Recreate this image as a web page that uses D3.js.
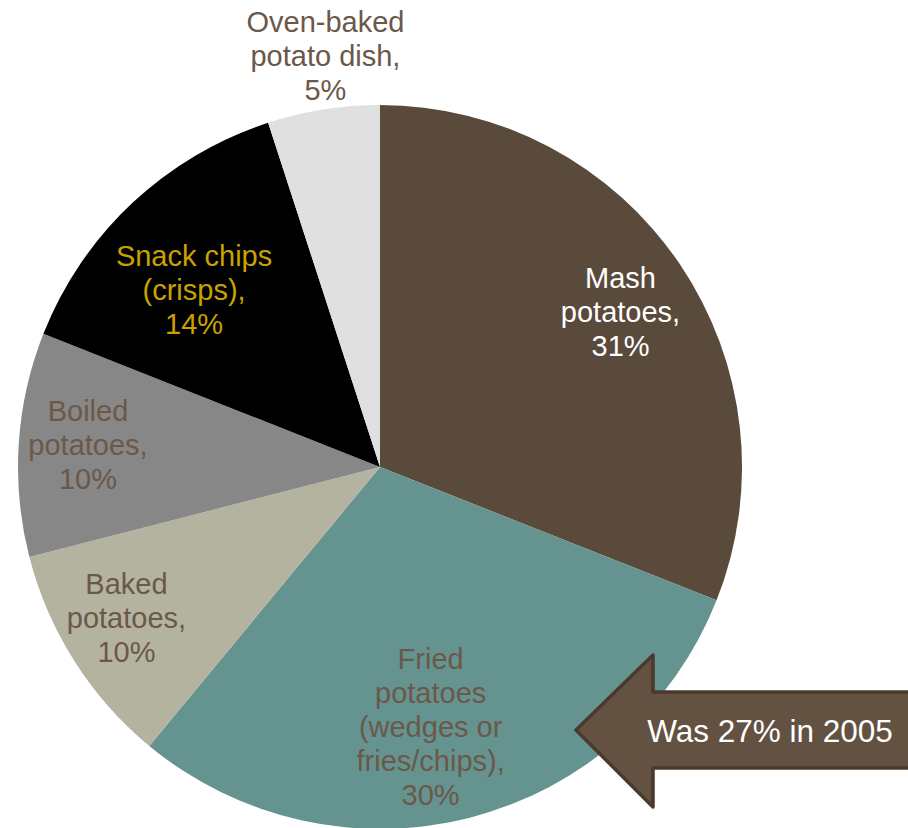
<!DOCTYPE html>
<html>
<head>
<meta charset="utf-8">
<script src="https://cdn.jsdelivr.net/npm/d3@7/dist/d3.min.js"></script>
<style>
  html, body { margin: 0; padding: 0; background: #fff; }
  svg { display: block; }
</style>
</head>
<body>
<svg id="chart" width="908" height="828"></svg>
<script>
// Share of potato consumption by preparation type
const categories = [
  "Mash potatoes",
  "Fried potatoes (wedges or fries/chips)",
  "Baked potatoes",
  "Boiled potatoes",
  "Snack chips (crisps)",
  "Oven-baked potato dish"
];
const values = [31, 30, 10, 10, 14, 5];
const labelLines = [
  ["Mash", "potatoes,"],
  ["Fried", "potatoes", "(wedges or", "fries/chips),"],
  ["Baked", "potatoes,"],
  ["Boiled", "potatoes,"],
  ["Snack chips", "(crisps),"],
  ["Oven-baked", "potato dish,"]
];
const sliceColors = ["#594a3c", "#659490", "#b3b39f", "#878787", "#000000", "#e0e0e0"];
const labelColors = ["#ffffff", "#6b5849", "#6b5849", "#6b5849", "#c9a200", "#6b5849"];
const calloutText = "Was 27% in 2005";

const svg = d3.select("#chart");
const cx = 380, cy = 467, radius = 362;
const fontFamily = "'Liberation Sans', Arial, sans-serif";

const data = categories.map((c, i) => ({
  name: c, value: values[i], lines: labelLines[i].concat([values[i] + "%"]),
  fill: sliceColors[i], textFill: labelColors[i]
}));

const pie = d3.pie().value(d => d.value).sort(null);
const arcs = pie(data);
const arc = d3.arc().innerRadius(0).outerRadius(radius);

const g = svg.append("g").attr("transform", `translate(${cx},${cy})`);

g.selectAll("path.slice")
  .data(arcs)
  .join("path")
  .attr("class", "slice")
  .attr("d", arc)
  .attr("fill", d => d.data.fill);

// Label placement: a radius per slice, plus small nudges for readability
const labelRadius = [0.79, 0.74, 0.81, 0.80, 0.71, 1.14];
const labelNudge = [[4, 5], [-16, 0], [-6, -7], [-3, -4], [-10, 10], [10, -4]];
const fontSize = 29, lineH = 34;

arcs.forEach((a, i) => {
  const mid = (a.startAngle + a.endAngle) / 2;
  const rr = radius * labelRadius[i];
  const x = rr * Math.sin(mid) + labelNudge[i][0];
  const y = -rr * Math.cos(mid) + labelNudge[i][1];
  const lines = a.data.lines;
  const n = lines.length;
  const t = g.append("text")
    .attr("text-anchor", "middle")
    .attr("font-family", fontFamily)
    .attr("font-size", fontSize)
    .attr("fill", a.data.textFill);
  lines.forEach((ln, k) => {
    t.append("tspan")
      .attr("x", x)
      .attr("y", y + (k - (n - 1) / 2) * lineH + fontSize * 0.36)
      .text(ln);
  });
});

// Callout arrow pointing at the fried potatoes slice
const ar = svg.append("g");
const tipX = 576, tipY = 730, headX = 653, headTop = 655, headBot = 807,
      shaftTop = 692, shaftBot = 768, endX = 920;
ar.append("path")
  .attr("d", `M${tipX},${tipY} L${headX},${headTop} L${headX},${shaftTop} L${endX},${shaftTop} L${endX},${shaftBot} L${headX},${shaftBot} L${headX},${headBot} Z`)
  .attr("fill", "#635242")
  .attr("stroke", "#4a3a2d")
  .attr("stroke-width", 3.5)
  .attr("stroke-linejoin", "round");
ar.append("text")
  .attr("x", 770)
  .attr("y", 742)
  .attr("text-anchor", "middle")
  .attr("font-family", fontFamily)
  .attr("font-size", 31.5)
  .attr("fill", "#ffffff")
  .text(calloutText);
</script>
</body>
</html>
